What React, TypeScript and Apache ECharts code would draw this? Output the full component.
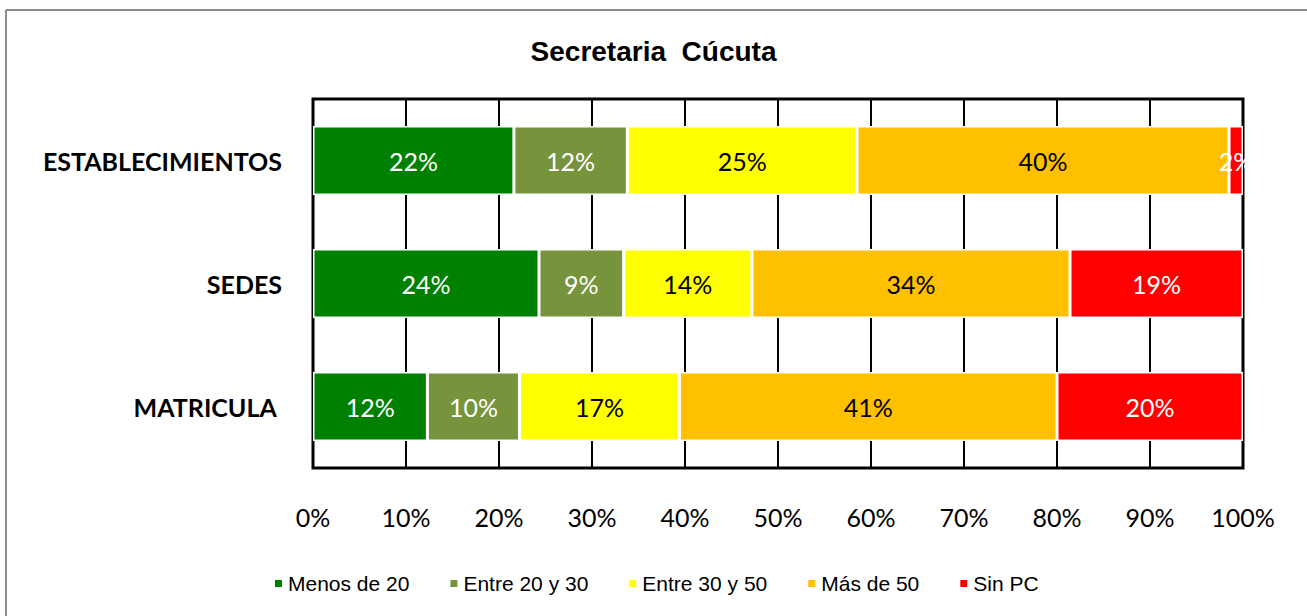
import React, { useEffect, useRef } from "react";
import * as echarts from "echarts";

const categories = ["MATRICULA ", "SEDES", "ESTABLECIMIENTOS"];
const seriesNames = ["Menos de 20", "Entre 20 y 30", "Entre 30 y 50", "Más de 50", "Sin PC"];
const menos20 = [12.3, 24.3, 21.6];
const entre20y30 = [9.9, 9.1, 12.2];
const entre30y50 = [17.2, 13.8, 24.7];
const mas50 = [40.6, 34.2, 40.0];
const sinPC = [20.0, 18.6, 1.5];
const xTicks = [0, 10, 20, 30, 40, 50, 60, 70, 80, 90, 100];

const colors = ["#008000", "#77933C", "#FFFF00", "#FFC000", "#FF0000"];
const labelColors = ["#ffffff", "#ffffff", "#000000", "#000000", "#ffffff"];

export default function App() {
  const ref = useRef<HTMLDivElement>(null);
  useEffect(() => {
    const chart = echarts.init(ref.current!, null, { renderer: "svg" });
    const values = [menos20, entre20y30, entre30y50, mas50, sinPC];
    chart.setOption({
      animation: false,
      backgroundColor: "#ffffff",
      title: {
        text: "Secretaria  Cúcuta",
        left: "center",
        top: 32,
        textStyle: {
          fontFamily: "Liberation Sans, Arial, sans-serif",
          fontWeight: "bold",
          fontSize: 28,
          color: "#000",
        },
      },
      legend: {
        bottom: 17,
        left: 268,
        icon: "rect",
        itemWidth: 9,
        itemHeight: 9,
        itemGap: 39,
        textStyle: {
          fontFamily: "Liberation Sans, Arial, sans-serif",
          fontSize: 21,
          color: "#000",
        },
        data: seriesNames,
      },
      graphic: [
        { type: "line", shape: { x1: 6, y1: 10, x2: 1307, y2: 10 }, style: { stroke: "#8c8c8c", lineWidth: 2 } },
        { type: "line", shape: { x1: 6, y1: 10, x2: 6, y2: 616 }, style: { stroke: "#8c8c8c", lineWidth: 2 } },
      ],
      grid: {
        left: 313,
        right: 64,
        top: 99,
        bottom: 148,
        show: true,
        borderColor: "#000",
        borderWidth: 3,
        containLabel: false,
      },
      xAxis: {
        type: "value",
        min: 0,
        max: 100,
        interval: 10,
        axisLine: { show: false },
        axisTick: { show: false },
        splitLine: { show: true, lineStyle: { color: "#000", width: 2 } },
        axisLabel: {
          formatter: (v: number) => `${v}%`,
          margin: 36,
          fontFamily: "Lato, Open Sans, sans-serif",
          fontSize: 25,
          color: "#000",
        },
      },
      yAxis: {
        type: "category",
        data: categories,
        axisLine: { show: false },
        axisTick: { show: false },
        axisLabel: {
          margin: 31,
          fontFamily: "Lato, Open Sans, sans-serif",
          fontWeight: "bold",
          fontSize: 25,
          color: "#000",
        },
      },
      series: seriesNames.map((name, i) => ({
        name,
        type: "bar",
        stack: "total",
        barWidth: 69,
        data: values[i],
        itemStyle: { color: colors[i], borderColor: "#ffffff", borderWidth: 1.5 },
        label: {
          show: true,
          position: "inside",
          formatter: (p: any) => `${Math.round(p.value)}%`,
          fontFamily: "Lato, Open Sans, sans-serif",
          fontSize: 25,
          color: labelColors[i],
        },
      })),
    });
    return () => chart.dispose();
  }, []);
  return (
    <div
      ref={ref}
      style={{ position: "fixed", left: 0, top: 0, width: 1307, height: 616 }}
    />
  );
}
